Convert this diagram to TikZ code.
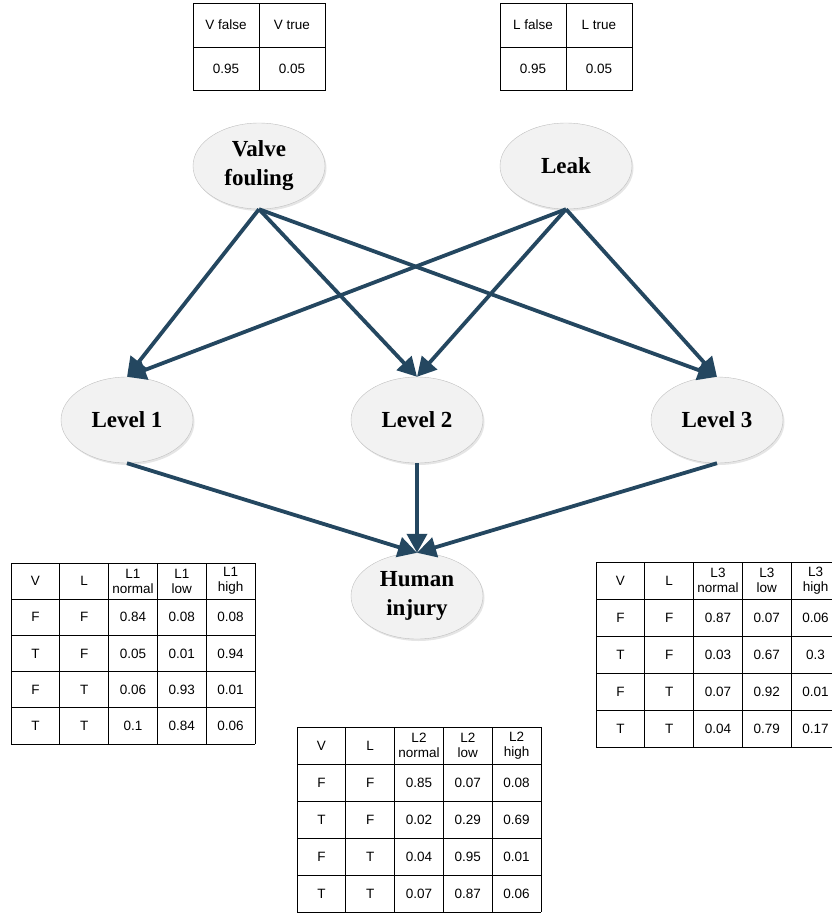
\documentclass[tikz,border=0pt]{standalone}
\usepackage{fontspec}
\setmainfont{Liberation Serif}
\setsansfont{Liberation Sans}
\usetikzlibrary{arrows.meta,shapes.geometric,shadows}

\definecolor{linkblue}{RGB}{36,71,96}

\tikzset{
  var/.style={ellipse, draw=black!25, fill=black!5, minimum width=132pt,
    minimum height=86pt, align=center, font=\fontsize{23}{29}\selectfont\bfseries,
    drop shadow={shadow xshift=1.5pt, shadow yshift=-2pt, fill=black!20, opacity=0.5}},
  link/.style={draw=linkblue, line width=3.8pt, -{Triangle[length=19pt,width=20pt]}},
  cell/.style={font=\fontsize{13.5}{15}\selectfont\sffamily, align=center, inner sep=0pt},
  grid/.style={draw=black, line width=0.8pt}
}

\begin{document}
\begin{tikzpicture}[x=1pt,y=-1pt]
  \useasboundingbox (0,0) rectangle (831,914);

  % ---- priors ---------------------------------------
  \begin{scope}[shift={(193,3)}]
    \draw[grid] (0,0) rectangle (132,87);
    \draw[grid] (66,0) -- (66,87) (0,44) -- (132,44);
    \node[cell] (vf) at (33,22) {V false};
    \node[cell] (vt) at (99,22) {V true};
    \node[cell] (vfp) at (33,66) {0.95};
    \node[cell] (vtp) at (99,66) {0.05};
  \end{scope}
  \begin{scope}[shift={(500,3)}]
    \draw[grid] (0,0) rectangle (132,87);
    \draw[grid] (66,0) -- (66,87) (0,44) -- (132,44);
    \node[cell] (lf) at (33,22) {L false};
    \node[cell] (lt) at (99,22) {L true};
    \node[cell] (lfp) at (33,66) {0.95};
    \node[cell] (ltp) at (99,66) {0.05};
  \end{scope}

  % ---- network nodes --------------------------------
  \node[var] (valve) at (259,166) {Valve\\fouling};
  \node[var] (leak)  at (566,166) {Leak};
  \node[var] (lev1)  at (127,420) {Level 1};
  \node[var] (lev2)  at (417,420) {Level 2};
  \node[var] (lev3)  at (717,420) {Level 3};
  \node[var] (human) at (417,596) {Human\\injury};

  % ---- arcs -----------------------------------------
  \foreach \t in {lev1,lev2,lev3} {
    \draw[link] (valve.south) -- (\t.north);
    \draw[link] (leak.south) -- (\t.north);
    \draw[link] (\t.south) -- (human.north);
  }

  % ---- CPT of Level 1 -------------------------------
  \begin{scope}[shift={(11,563)}]
    \foreach \i in {0,...,5} \draw[grid] (\i*48.8,0) -- (\i*48.8,181);
    \foreach \j in {0,...,5} \draw[grid] (0,\j*36.2) -- (244,\j*36.2);
    \foreach \t [count=\k] in {V,L,L1\\normal,L1\\low,L1\\high}
      \node[cell] (lone-0-\k) at ({(\k-0.5)*48.8},18) {\t};
    \foreach \v/\l/\a/\b/\c [count=\r] in {F/F/0.84/0.08/0.08, T/F/0.05/0.01/0.94,
        F/T/0.06/0.93/0.01, T/T/0.1/0.84/0.06}
      \foreach \t [count=\k] in {\v,\l,\a,\b,\c}
        \node[cell] (lone-\r-\k) at ({(\k-0.5)*48.8},{(\r+0.5)*36.2}) {\t};
  \end{scope}

  % ---- CPT of Level 2 -------------------------------
  \begin{scope}[shift={(297,727)}]
    \foreach \i in {0,...,5} \draw[grid] (\i*48.8,0) -- (\i*48.8,185);
    \foreach \j in {0,...,5} \draw[grid] (0,\j*37) -- (244,\j*37);
    \foreach \t [count=\k] in {V,L,L2\\normal,L2\\low,L2\\high}
      \node[cell] (ltwo-0-\k) at ({(\k-0.5)*48.8},18.5) {\t};
    \foreach \v/\l/\a/\b/\c [count=\r] in {F/F/0.85/0.07/0.08, T/F/0.02/0.29/0.69,
        F/T/0.04/0.95/0.01, T/T/0.07/0.87/0.06}
      \foreach \t [count=\k] in {\v,\l,\a,\b,\c}
        \node[cell] (ltwo-\r-\k) at ({(\k-0.5)*48.8},{(\r+0.5)*37}) {\t};
  \end{scope}

  % ---- CPT of Level 3 -------------------------------
  \begin{scope}[shift={(596,562)}]
    \foreach \i in {0,...,5} \draw[grid] (\i*48.8,0) -- (\i*48.8,185);
    \foreach \j in {0,...,5} \draw[grid] (0,\j*37) -- (244,\j*37);
    \foreach \t [count=\k] in {V,L,L3\\normal,L3\\low,L3\\high}
      \node[cell] (lthree-0-\k) at ({(\k-0.5)*48.8},18.5) {\t};
    \foreach \v/\l/\a/\b/\c [count=\r] in {F/F/0.87/0.07/0.06, T/F/0.03/0.67/0.3,
        F/T/0.07/0.92/0.01, T/T/0.04/0.79/0.17}
      \foreach \t [count=\k] in {\v,\l,\a,\b,\c}
        \node[cell] (lthree-\r-\k) at ({(\k-0.5)*48.8},{(\r+0.5)*37}) {\t};
  \end{scope}
\end{tikzpicture}
\end{document}
